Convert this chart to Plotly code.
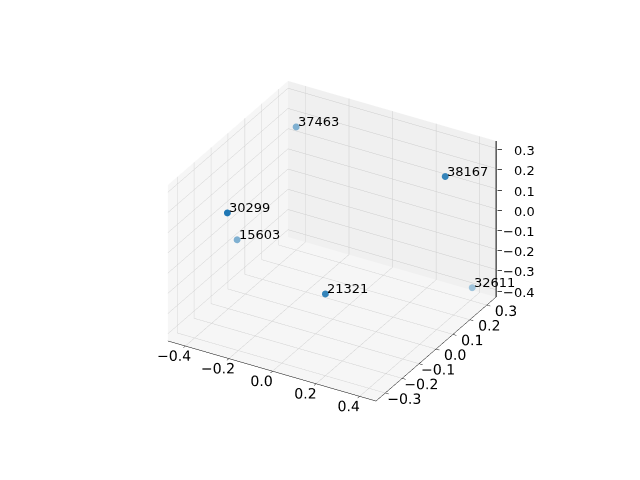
import plotly.graph_objects as go

labels = ["37463", "38167", "30299", "15603", "32611", "21321"]
xs = [-0.315, 0.315, -0.25, -0.415, 0.40, 0.06]
ys = [0.19, 0.26, -0.30, -0.03, 0.31, -0.12]
zs = [0.28, 0.18, 0.23, -0.15, -0.38, -0.205]
alphas = [0.55, 0.9, 1.0, 0.55, 0.4, 0.9]

x_ticks = [-0.4, -0.2, 0.0, 0.2, 0.4]
y_ticks = [-0.3, -0.2, -0.1, 0.0, 0.1, 0.2, 0.3]
z_ticks = [-0.4, -0.3, -0.2, -0.1, 0.0, 0.1, 0.2, 0.3]

x_range = [-0.48, 0.475]
y_range = [-0.355, 0.355]
z_range = [-0.436, 0.336]

def fmt(t):
    return f"{t:.1f}".replace("-", "\u2212")

base = (31, 119, 180)
bg = (245, 245, 245)
colors = []
for a in alphas:
    c = [round(bg[i] - a * (bg[i] - base[i])) for i in range(3)]
    colors.append(f"rgb({c[0]},{c[1]},{c[2]})")

fig = go.Figure()
# z axis line on the right-hand vertical edge (as in the reference)
fig.add_trace(go.Scatter3d(
    x=[x_range[1], x_range[1]], y=[y_range[1], y_range[1]], z=z_range,
    mode="lines", line=dict(color="black", width=2),
    hoverinfo="none",
))
fig.add_trace(go.Scatter3d(
    x=xs, y=ys, z=zs,
    mode="markers",
    marker=dict(size=4, color=colors, line=dict(width=0)),
    hoverinfo="none",
))

annotations = [
    dict(x=x, y=y, z=z, text=t, showarrow=False,
         xanchor="left", yanchor="bottom", xshift=0, yshift=-4,
         font=dict(family="DejaVu Sans", size=13, color="black"))
    for x, y, z, t in zip(xs, ys, zs, labels)
]
for t in z_ticks:
    annotations.append(dict(
        x=x_range[1], y=y_range[1], z=t, text="\u2013", showarrow=False,
        xanchor="left", yanchor="middle", xshift=-1, yshift=0,
        font=dict(family="DejaVu Sans", size=11, color="black")))
    annotations.append(dict(
        x=x_range[1], y=y_range[1], z=t, text=fmt(t), showarrow=False,
        xanchor="right", yanchor="middle", xshift=41, yshift=-2,
        font=dict(family="DejaVu Sans", size=13, color="black")))

def ax(ticks, rng, bgc, show=True):
    return dict(
        range=rng, tickvals=ticks,
        ticktext=[fmt(t) for t in ticks],
        tickangle=0,
        title=dict(text=""),
        showbackground=True, backgroundcolor=bgc,
        gridcolor="rgb(205,205,205)", gridwidth=1,
        showline=show, linecolor="black", linewidth=1,
        zeroline=False, showspikes=False,
        showticklabels=show,
        ticks="outside" if show else "", ticklen=4, tickcolor="black",
        tickfont=dict(family="DejaVu Sans", size=13, color="black"),
    )

fig.update_layout(
    width=640, height=480,
    paper_bgcolor="white",
    margin=dict(l=0, r=0, t=0, b=0),
    showlegend=False,
    scene=dict(
        domain=dict(x=[0.022, 0.991], y=[0.033, 0.995]),
        xaxis=ax(x_ticks, x_range, "rgb(246,246,246)"),
        yaxis=ax(y_ticks, y_range, "rgb(240,240,240)"),
        zaxis=ax(z_ticks, z_range, "rgb(246,246,246)", show=False),
        aspectmode="manual",
        aspectratio=dict(x=1.04, y=1.04, z=0.78),
        annotations=annotations,
        camera=dict(
            eye=dict(x=0.433 * 1.6, y=-0.75 * 1.6, z=0.5 * 1.6),
            center=dict(x=0, y=0, z=0),
            up=dict(x=0, y=0, z=1),
            projection=dict(type="orthographic"),
        ),
    ),
)

fig.write_html("out.html")
